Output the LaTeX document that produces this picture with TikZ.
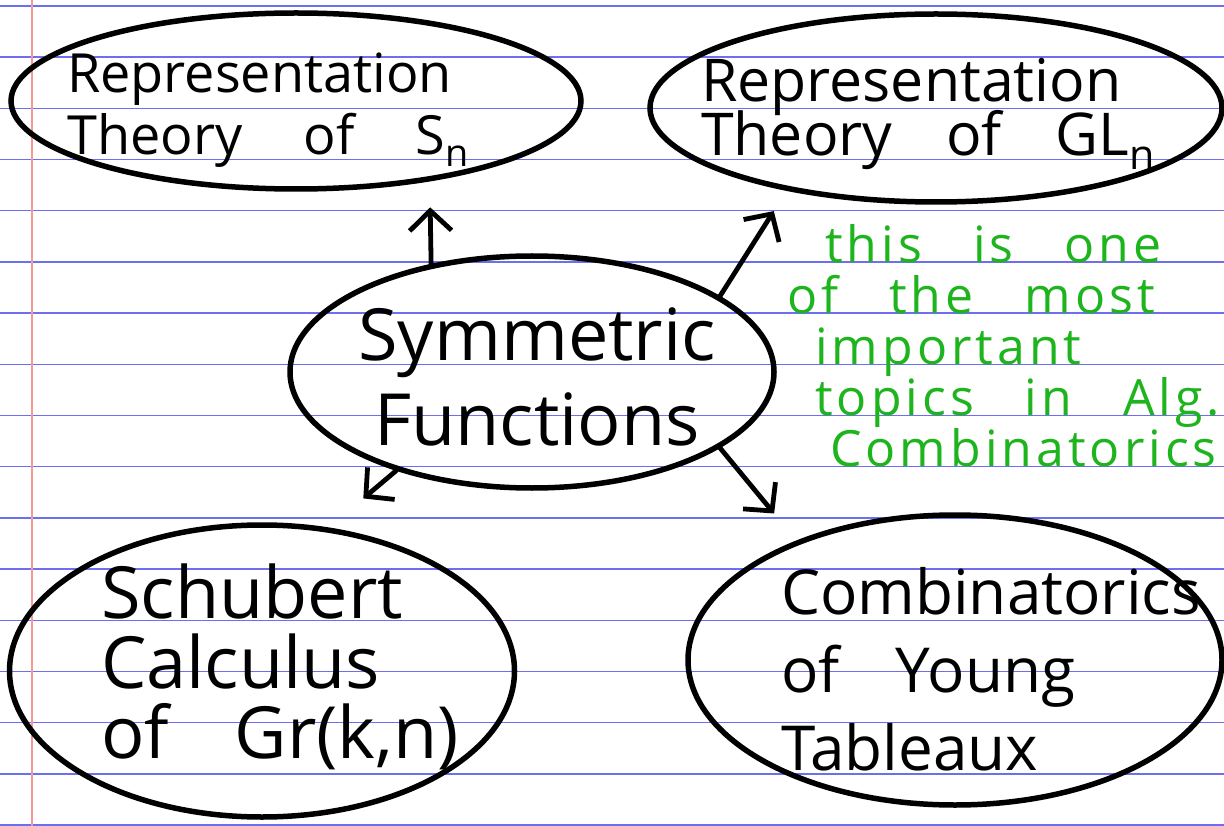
\documentclass[tikz,border=0pt]{standalone}
\usepackage{fontspec}
\newfontfamily\inkfont[WordSpace=3.5]{Open Sans}
\newfontfamily\notefont[LetterSpace=8,WordSpace=3]{Open Sans}
\usetikzlibrary{arrows.meta,shapes.geometric}
\definecolor{ruleblue}{RGB}{110,110,240}
\definecolor{marginred}{RGB}{250,150,150}
\definecolor{inkgreen}{RGB}{30,180,30}
\setlength{\lineskiplimit}{-200pt}

\begin{document}
\begin{tikzpicture}[x=1pt, y=-1pt,
  >={Straight Barb[length=20pt,width=42pt]},
  ruleline/.style={ruleblue, line width=1.4pt},
  marginline/.style={marginred, line width=1.6pt},
  blob/.style={draw, ellipse, line width=5.5pt, inner sep=0pt},
  flow/.style={->, line width=4.8pt, line cap=round, line join=round}]
  \fill[white] (0,0) rectangle (1224,826);
  \useasboundingbox (0,0) rectangle (1224,826);
  % ruled paper
  \foreach \k in {0,...,16}
    \draw[ruleline] (0,{6+51.19*\k}) -- (1224,{6+51.19*\k});
  \draw[marginline] (32,0) -- (32,826);

  % topics
  \node[blob, minimum width=570pt, minimum height=176pt,
    label={[font=\inkfont\fontsize{54}{62}\selectfont, align=left, inner sep=0pt,
      xshift=-28pt, yshift=-9pt]center:Representation\\Theory\hspace{12pt} of\hspace{12pt} S\textsubscript{n}}]
    (repSn) at (296,101) {};
  \node[blob, minimum width=572pt, minimum height=188pt,
    label={[font=\inkfont\fontsize{59}{54}\selectfont, align=left, inner sep=0pt,
      xshift=-8pt, yshift=-6pt]center:Representation\\Theory of GL\textsubscript{n}}]
    (repGL) at (936,108) {};
  \node[blob, minimum width=484pt, minimum height=232pt,
    label={[font=\inkfont\fontsize{72}{85}\selectfont, align=center, inner sep=0pt,
      xshift=5pt, yshift=-5pt]center:Symmetric\\Functions}]
    (sym) at (532,372) {};
  \node[blob, minimum width=505pt, minimum height=292pt,
    label={[font=\inkfont\fontsize{72}{70}\selectfont, align=left, inner sep=0pt,
      xshift=18pt, yshift=4pt]center:Schubert\\Calculus\\of Gr(k,n)}]
    (schub) at (262,671) {};
  \node[blob, minimum width=534pt, minimum height=290pt,
    label={[font=\inkfont\fontsize{62}{78}\selectfont, align=left, inner sep=0pt,
      xshift=36pt, yshift=-9pt]center:Combinatorics\\of Young\\Tableaux}]
    (young) at (955,660) {};

  % green remark
  \node[inkgreen, font=\notefont\fontsize{50}{51}\selectfont, align=left,
    inner sep=0pt, anchor=north west] (remark) at (787,224)
    {\hspace*{38pt}this is one\\of the most\\\hspace*{28pt}important\\
     \hspace*{28pt}topics in Alg.\\\hspace*{43pt}Combinatorics};

  % arrows out of the centre
  \draw[flow, shorten >=26pt] (sym.133) -- (repSn.-31);
  \draw[flow, shorten >=24pt] (sym.22.5) -- (repGL.209);
  \draw[flow, shorten >=45pt] (sym.216) -- (schub.65);
  \draw[flow, shorten >=35pt] (sym.-22) -- (young.143);
\end{tikzpicture}
\end{document}
